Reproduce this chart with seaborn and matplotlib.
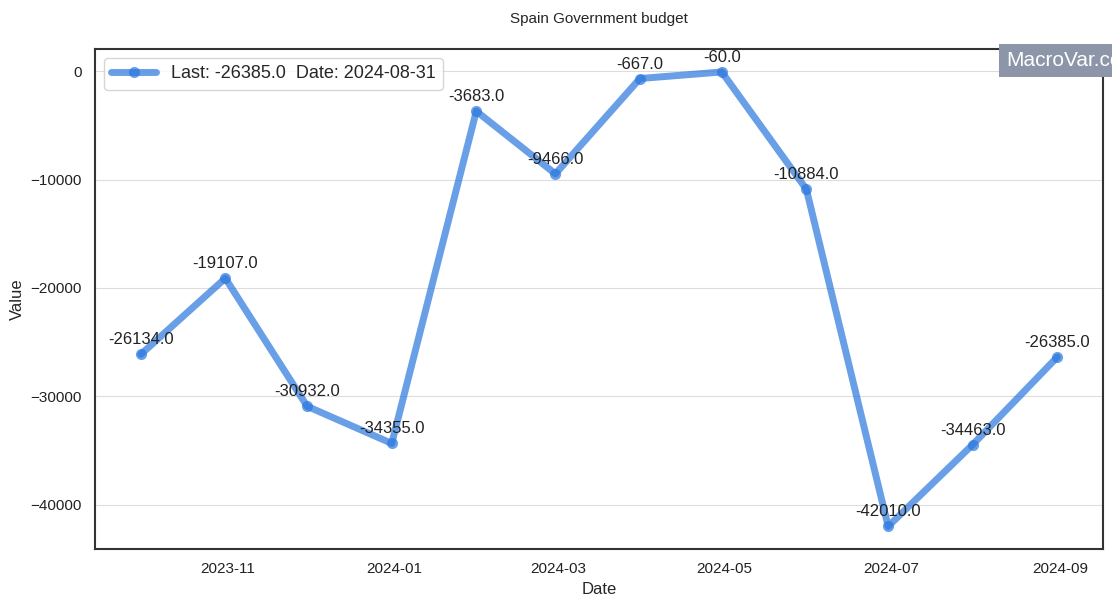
import matplotlib
matplotlib.use("Agg")
import matplotlib.pyplot as plt
import matplotlib.dates as mdates
import seaborn as sns
import pandas as pd

dates = ["2023-09-30", "2023-10-31", "2023-11-30", "2023-12-31", "2024-01-31",
         "2024-02-29", "2024-03-31", "2024-04-30", "2024-05-31", "2024-06-30",
         "2024-07-31", "2024-08-31"]
values = [-26134.0, -19107.0, -30932.0, -34355.0, -3683.0, -9466.0,
          -667.0, -60.0, -10884.0, -42010.0, -34463.0, -26385.0]
title = "Spain Government budget"

df = pd.DataFrame({"Date": pd.to_datetime(dates), "Value": values})

sns.set_theme(style="white")
plt.rcParams['font.family'] = ['Liberation Sans', 'DejaVu Sans']

fig = plt.figure(figsize=(11.12, 6.08), dpi=100)
ax = fig.add_axes([0.0854, 0.097, 0.9066, 0.822])

label = f"Last: {values[-1]}  Date: {dates[-1]}"
sns.lineplot(data=df, x="Date", y="Value", ax=ax, color="#2a76de", alpha=0.7,
             linewidth=5, marker="o", markersize=8, markeredgewidth=0,
             label=label)

for d, v in zip(df["Date"], df["Value"]):
    ax.annotate(f"{v}", (d, v), xytext=(0, 5), textcoords="offset points",
                ha="center", va="bottom", fontsize=12, color="#222222")

ax.yaxis.grid(True, color="#dddddd", linewidth=0.8)
ax.xaxis.grid(False)
for s in ax.spines.values():
    s.set_color("#333333")
    s.set_linewidth(1.5)

ax.xaxis.set_major_locator(mdates.MonthLocator(bymonth=[1, 3, 5, 7, 9, 11]))
ax.xaxis.set_major_formatter(mdates.DateFormatter("%Y-%m"))
ax.tick_params(labelsize=11, colors="#222222")
ax.set_xlabel("Date", fontsize=12)
ax.set_ylabel("Value", fontsize=12)
ax.set_title(title, fontsize=11, pad=19)

ax.legend(loc="upper left", fontsize=13, frameon=True, handlelength=2.5)

fig.text(0.905, 0.900, "MacroVar.com", fontsize=15, color="white",
         ha="left", va="center", zorder=0,
         bbox=dict(facecolor="#8c96a8", edgecolor="none", pad=5))

fig.savefig("out.png", dpi=100)
